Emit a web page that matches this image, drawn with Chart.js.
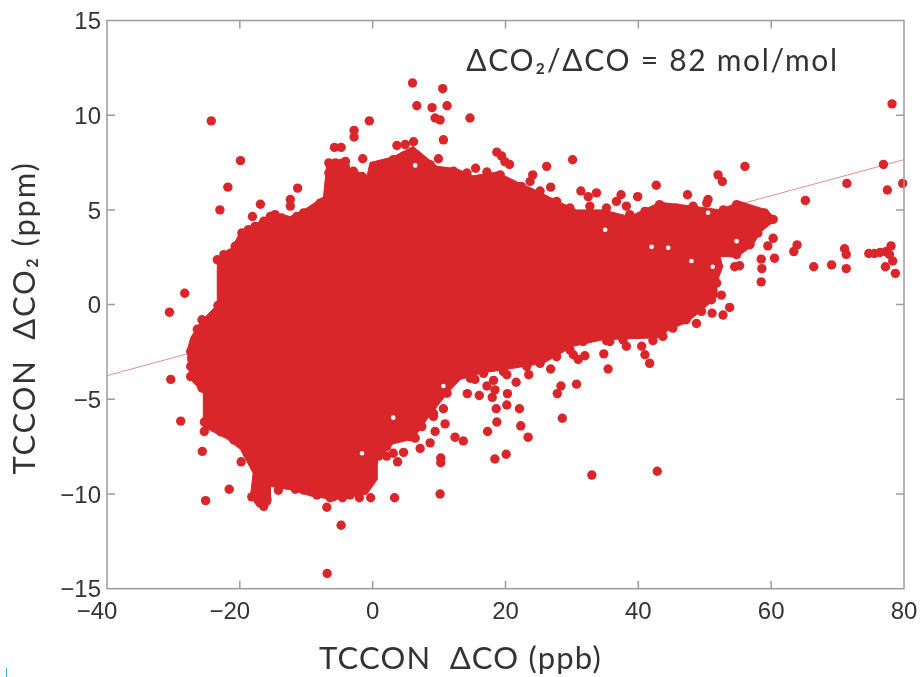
<!DOCTYPE html>
<html>
<head>
<meta charset="utf-8">
<title>TCCON dCO2 vs dCO</title>
<script src="https://cdn.jsdelivr.net/npm/chart.js@4"></script>
<style>
  html, body { margin: 0; padding: 0; background: #fff; }
  #wrap { position: relative; width: 922px; height: 677px; overflow: hidden; }
  #mark { position: absolute; left: 6px; top: 668px; width: 1px; height: 9px; background: #3fa9c4; }
</style>
</head>
<body>
<div id="wrap">
  <canvas id="chart" width="922" height="677"></canvas>
  <div id="mark"></div>
</div>
<script>
// values: [dCO ppb, dCO2 ppm]
const xTicks = [-40, -20, 0, 20, 40, 60, 80];
const yTicks = [-15, -10, -5, 0, 5, 10, 15];
const fitLine = [[-40, -3.75], [80, 7.65]];
const annotation = "\u0394CO\u2082/\u0394CO = 82 mol/mol";
const xTitle = "TCCON  \u0394CO (ppb)";
const yTitle = "TCCON  \u0394CO\u2082 (ppm)";

// outer edge of the solid part of the cloud
const cloudOutline = [
  [-27.9, -2.4], [-27.4, -1.75], [-25.9, -0.9], [-23.4, 0], [-23.4, 2.4], [-21.4, 2.9], [-19.9, 3.85],
  [-17.4, 4.3], [-14.9, 4.85], [-12.4, 4.65], [-9.9, 5.1], [-7.4, 5.7], [-6.9, 7.5], [-3.85, 7.75],
  [-3.4, 7.2], [-0.85, 6.8], [-0.4, 7.5], [3.1, 7.8], [6.1, 8.35], [9.7, 7.3], [12.1, 7.2], [13.2, 7.1],
  [15.1, 6.8], [18.7, 7.0], [22.2, 6.4], [24.2, 6.1], [28.2, 5.4], [30.7, 5.0], [34.7, 5.0], [38.7, 4.65],
  [43.2, 5.4], [48.2, 5.2], [52.3, 5.0], [55.3, 5.45], [59.3, 5.0], [60.8, 4.5], [58.3, 3.8], [57.2, 3.1],
  [54.8, 2.5], [52.3, 2.55], [52.7, 2.0], [51.8, 1.15], [51.8, 0.4], [49.7, -0.26], [47.3, -0.95],
  [44.7, -1.3], [43.2, -1.75], [34.7, -1.85], [30.2, -2.2], [25.7, -3.1], [19.6, -3.45], [16.6, -3.6],
  [13.2, -3.95], [11.2, -4.7], [8.2, -6.05], [6.1, -7.1], [3.1, -7.35], [0.65, -8.2], [0.65, -9.25],
  [-0.85, -10], [-5.9, -10.3], [-9.4, -10.1], [-11.9, -9.8], [-15.4, -9.6], [-15.4, -10.5], [-16.4, -10.8],
  [-17.4, -10.65], [-18.4, -10.1], [-18, -8.9], [-19.9, -7.65], [-21.9, -7.1], [-25.5, -6.45], [-25.5, -4.7],
  [-27.4, -3.95], [-27.9, -2.75]
];

// dots sitting on the edge of the cloud, they make the bumpy outline
const edgeTop = [
  [-23.4, 2.37], [-22.4, 2.64], [-21.4, 2.72], [-20.7, 3.08], [-19.7, 3.78], [-18.7, 3.96], [-17.7, 4.13],
  [-16.4, 4.4], [-15.4, 4.66], [-14.7, 4.75], [-13.7, 4.57], [-12.4, 4.4], [-11.4, 4.66], [-10.4, 4.84],
  [-8.9, 4.92], [-7.9, 5.36], [-6.6, 6.95], [-6.6, 7.48], [-5.6, 7.48], [-4.1, 7.56], [-2.9, 7.04],
  [-1.6, 6.77], [0.1, 7.12], [1.6, 7.3], [3.1, 7.65], [4.6, 7.83], [5.9, 7.92], [7.1, 7.48], [8.65, 7.39],
  [10.65, 6.86], [12.2, 7.04], [14.2, 6.95], [20.7, 6.33], [22.4, 6.24], [25.2, 5.72], [27.7, 5.45],
  [29.7, 5.1], [32.7, 5.19], [35.2, 5.1], [38.7, 4.75], [41, 4.92], [43.2, 5.28], [45.7, 5.1], [48.25, 5.19],
  [50.3, 5.36], [52.8, 5.0], [54.8, 5.28], [57.3, 4.92], [59, 4.84]
];
const edgeBottom = [
  [58, 3.78], [56.8, 3.16], [54.8, 2.64], [53.3, 2.81], [52, 2.02], [51.8, 1.14], [51, 0.26], [49.5, -0.36],
  [47.2, -0.8], [45.2, -1.24], [43.7, -1.68], [37.7, -1.87], [35.7, -1.95], [31.7, -1.95], [29.7, -2.39],
  [27.7, -2.75], [25.2, -3.1], [23.2, -3.27], [19.7, -3.54], [16.7, -3.63], [14.7, -3.89], [11.2, -4.68],
  [9.15, -5.74], [7.4, -6.44], [5.6, -6.97], [3.6, -7.06], [2.1, -7.5], [0.1, -8.29], [-0.1, -9.08],
  [-1.4, -9.79], [-3.4, -10.05], [-5.9, -10.14], [-8.4, -10.05], [-10.4, -9.79], [-12.9, -9.52], [-17.4, -10.14],
  [-17.4, -9.26], [-18.9, -7.85], [-20.9, -7.15], [-22.9, -6.71], [-24.7, -6.27], [-24.7, -4.86], [-26.4, -3.98],
  [-27.4, -3.27], [-27.4, -2.48], [-26.4, -1.3], [-25.4, -0.88]
];

// separate dots around the cloud
const pointsUpperLeft = [
  [-24.3, 9.7], [-19.9, 7.6], [-21.8, 6.2], [-23, 5.0], [-16.9, 5.3], [-18.1, 4.65], [-11.3, 6.15], [-12.4, 5.55],
  [-12.4, 5.2], [-28.3, 0.6], [-30.6, -0.4], [-2.8, 9.2], [-2.8, 8.85], [-0.5, 9.7], [-5.75, 8.3], [-4.75, 8.3],
  [-1.5, 7.7], [6, 11.7], [6.65, 10.5], [10.55, 11.4], [8.95, 10.4], [11.2, 10.5], [9.4, 9.85], [10.15, 9.75],
  [10.65, 8.7], [6.15, 8.6], [3.65, 8.4], [4.9, 8.45], [9.9, 7.7], [-25.7, -0.8], [-23.3, -0.05]
];
const pointsUpperRight = [
  [14.65, 9.85], [15.5, 7.2], [18.7, 8.05], [19.4, 7.85], [19.9, 7.55], [20.6, 7.4], [17.2, 7.0], [19.2, 6.85],
  [26.2, 7.3], [30.1, 7.65], [24.1, 6.85], [23.7, 6.5], [26.8, 6.2], [25.2, 6.0], [31.35, 6.0], [32.45, 5.7],
  [33.7, 5.9], [37.4, 5.8], [36.7, 5.45], [39.9, 5.7], [38.2, 5.2], [42.7, 6.3], [47.4, 5.8], [50.5, 5.55],
  [52, 6.85], [52.65, 6.5], [56.05, 7.3], [65.15, 5.5], [71.4, 6.4], [76.9, 7.4], [77.5, 6.05],
  [78.2, 10.6], [79.8, 6.4], [60.3, 4.5], [60.3, 3.5], [59.5, 3.1], [60.5, 2.45], [58.5, 2.4],
  [58.6, 1.9], [58.5, 1.2], [63.9, 3.15], [63.4, 2.8], [55.25, 2.05], [54.5, 2.0], [66.4, 2.0], [69.1, 2.1],
  [71.3, 1.9], [71.05, 2.95], [71.3, 2.65], [74.7, 2.7], [75.55, 2.7], [76.4, 2.75], [77.3, 2.8], [78.05, 3.1],
  [77.8, 2.65], [78.3, 2.3], [77.2, 2.0], [78.7, 1.65], [53.75, -0.15], [52.75, -0.55], [51.1, -0.45],
  [48.75, -1.0], [52.5, 0.5]
];
const pointsLowerRight = [
  [42.85, -8.8], [33, -9.0], [20.1, -7.9], [18.4, -8.15], [23.4, -7.0], [22.3, -6.4], [17.3, -6.7], [18.7, -6.2],
  [22.1, -5.5], [18.6, -5.5], [20.2, -5.3], [20.3, -4.7], [18, -4.9], [18.4, -4.5], [16.05, -4.8], [14.25, -4.7],
  [17.2, -4.3], [18.2, -4], [15.4, -3.95], [21.6, -4.1], [23.5, -3.7], [20.2, -3.7], [26.8, -3.4], [30.7, -4.2],
  [28.35, -4.3], [27.8, -4.7], [28.55, -6.0], [13.65, -7.2], [35.45, -3.4], [34.8, -2.6], [31.95, -2.7],
  [30.95, -2.9], [30.2, -2.65], [41.7, -3.1], [41, -2.65], [40.5, -2.2], [38.2, -2.2], [35.2, -1.9], [42.2, -1.9]
];
const pointsLowerLeft = [
  [-30.4, -3.95], [-28.9, -6.15], [-25.65, -7.75], [-25.15, -10.35], [-21.6, -9.75], [-19.8, -8.3], [-14.2, -9.8],
  [-6.9, -10.7], [-4.75, -11.65], [-6.85, -14.2], [-4.55, -10.2], [-2, -10.2], [-0.3, -10.2], [3.3, -10.2],
  [10.15, -10], [10.25, -8.1], [10.25, -8.35], [3.75, -8.3], [4.65, -7.8], [3.1, -7.85], [2.1, -8], [0.9, -8],
  [7.15, -7.6], [8.65, -7.3], [12.4, -7], [10.9, -6.3], [9.4, -6.7], [10.65, -5.5], [9.15, -5.9], [6.4, -7.05],
  [-6.4, -10.2], [-11.65, -9.75], [-16.4, -10.65], [-18.2, -10.15], [-15.9, -10.3], [-27.4, -3.8], [-25.7, -4.4],
  [-25.35, -6.2], [-25.35, -6.7]
];
// small white openings inside the cloud
const cloudGaps = [
  [44.5, 3.0], [48, 2.3], [51.2, 2.0], [35, 3.95], [42, 3.05], [54.8, 3.35], [50.5, 4.85], [3.1, -5.97],
  [-1.6, -7.85], [10.65, -4.3], [6.4, 7.35]
];

const RED = "#d9262b";
const TEXT = "#333";
const toXY = (pts) => pts.map((p) => ({ x: p[0], y: p[1] }));

// box, inward ticks on all four sides (matlab look) and the three gill-like labels
const boxPlugin = {
  id: "box",
  afterDraw(chart) {
    const { ctx, chartArea: a, scales } = chart;
    ctx.save();
    ctx.strokeStyle = "#9c9c9c";
    ctx.lineWidth = 1.5;
    ctx.strokeRect(a.left, a.top, a.right - a.left, a.bottom - a.top);
    ctx.beginPath();
    xTicks.slice(1, -1).forEach((v) => {
      const px = scales.x.getPixelForValue(v);
      ctx.moveTo(px, a.top); ctx.lineTo(px, a.top + 8);
      ctx.moveTo(px, a.bottom); ctx.lineTo(px, a.bottom - 8);
    });
    yTicks.slice(1, -1).forEach((v) => {
      const py = scales.y.getPixelForValue(v);
      ctx.moveTo(a.left, py); ctx.lineTo(a.left + 8, py);
      ctx.moveTo(a.right, py); ctx.lineTo(a.right - 8, py);
    });
    ctx.stroke();

    ctx.fillStyle = TEXT;
    ctx.textAlign = "center";
    ctx.textBaseline = "alphabetic";
    ctx.font = "30px Lato";
    ctx.letterSpacing = "1.7px";
    ctx.fillText(annotation, 652.5, 71);
    ctx.font = "31px Lato";
    ctx.letterSpacing = "1.2px";
    ctx.fillText(xTitle, 460.5, 669);
    ctx.letterSpacing = "1.8px";
    ctx.translate(35, 318);
    ctx.rotate(-Math.PI / 2);
    ctx.fillText(yTitle, 0, 0);
    ctx.restore();
  },
};

const dots = (pts) => ({
  data: toXY(pts),
  backgroundColor: RED,
  borderWidth: 0,
  pointRadius: 4.7,
  clip: false,
  order: 2,
});

new Chart(document.getElementById("chart"), {
  type: "scatter",
  data: {
    datasets: [
      {
        data: toXY(fitLine),
        showLine: true,
        borderColor: "#e58f8f",
        borderWidth: 1,
        pointRadius: 0,
        order: 5,
      },
      {
        data: toXY(cloudOutline),
        showLine: true,
        fill: "shape",
        tension: 0,
        backgroundColor: RED,
        borderColor: RED,
        borderWidth: 1,
        pointRadius: 0,
        order: 4,
      },
      dots(edgeTop),
      dots(edgeBottom),
      dots(pointsUpperLeft),
      dots(pointsUpperRight),
      dots(pointsLowerRight),
      dots(pointsLowerLeft),
      {
        data: toXY(cloudGaps),
        backgroundColor: "#fff",
        borderWidth: 0,
        pointRadius: 2.3,
        order: 1,
      },
    ],
  },
  options: {
    responsive: false,
    animation: false,
    layout: { padding: { top: 20.5, right: 18, left: 0, bottom: 0 } },
    plugins: { legend: { display: false }, tooltip: { enabled: false } },
    scales: {
      x: {
        type: "linear",
        min: -40,
        max: 80,
        afterFit: (s) => { s.height = 88.3; },
        afterBuildTicks: (s) => { s.ticks = xTicks.map((v) => ({ value: v })); },
        grid: { display: false },
        border: { display: false },
        ticks: {
          maxRotation: 0,
          padding: 1,
          autoSkip: false,
          color: TEXT,
          font: { family: "Liberation Sans", size: 24 },
          // minus sign hangs to the left of the number, pad so digits sit on the tick
          callback: (v) => (v < 0 ? "\u2212" + Math.abs(v) + "   " : String(v)),
        },
      },
      y: {
        type: "linear",
        min: -15,
        max: 15,
        afterFit: (s) => { s.width = 107; },
        afterBuildTicks: (s) => { s.ticks = yTicks.map((v) => ({ value: v })); },
        grid: { display: false },
        border: { display: false },
        ticks: {
          padding: -2,
          labelOffset: 2,
          autoSkip: false,
          color: TEXT,
          font: { family: "Liberation Sans", size: 24 },
          callback: (v) => (v < 0 ? "\u2212" + Math.abs(v) : String(v)),
        },
      },
    },
  },
  plugins: [boxPlugin],
});
</script>
</body>
</html>
